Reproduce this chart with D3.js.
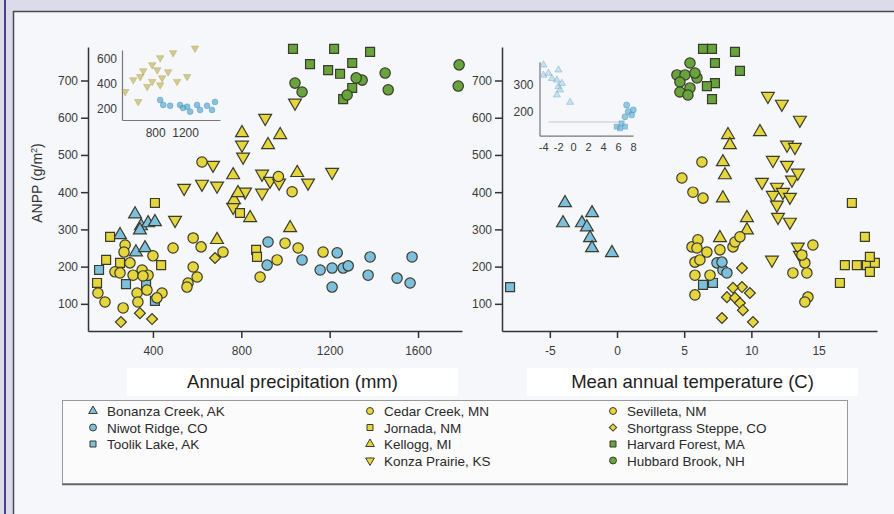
<!DOCTYPE html>
<html>
<head>
<meta charset="utf-8">
<script src="https://cdn.jsdelivr.net/npm/d3@7"></script>
<style>
  body { margin: 0; background: #dcdbe9; }
  svg { display: block; font-family: "Liberation Sans", Arial, sans-serif; }
</style>
</head>
<body>
<svg id="drawing_region"></svg>
<script>
// ANPP (g/m2) by site, against annual precipitation (mm) and mean annual temperature (C)

// [precipitation, ANPP]
const bonanzaPrecip = [[319,341],[346,309],[378,317],[409,320],[251,285],[323,239],[364,250],[341,298]];
const niwotPrecip = [[917,204],[921,266],[1075,218],[1234,237],[1157,191],[1211,196],[1261,196],[1284,202],[1211,145],[1383,226],[1374,177],[1505,169],[1564,156],[1573,226]];
const toolikPrecip = [[156,191],[278,153],[369,151],[409,108]];
const cedarPrecip = [[622,481],[491,250],[582,277],[618,253],[717,239],[559,156],[600,172],[582,199],[962,218],[998,263],[1057,250],[1170,239],[885,172],[554,145],[1030,401],[968,442]];
const jornadaPrecip = [[409,371],[206,280],[188,218],[147,156],[437,204],[867,245],[871,226],[794,344],[251,210]];
const kelloggPrecip = [[763,446],[803,559],[976,554],[921,527],[1053,452],[1021,304],[690,272],[840,331],[767,379],[785,398]];
const konzaPrecip = [[500,325],[541,411],[622,422],[690,417],[672,473],[908,599],[803,527],[808,495],[894,449],[930,430],[971,425],[1102,425],[1211,454],[1043,640],[894,398],[817,401],[763,360]];
const sevilletaPrecip = [[274,258],[269,239],[400,229],[228,186],[296,210],[251,183],[351,191],[310,177],[378,177],[151,129],[183,105],[328,129],[373,137],[441,129],[332,105],[265,89],[418,116],[355,175]];
const shortgrassPrecip = [[255,51],[396,59],[341,75],[681,223]];
const harvardPrecip = [[1034,785],[1220,785],[1383,777],[1111,744],[1193,728],[1302,747],[1247,718],[1302,680],[1261,650]];
const hubbardPrecip = [[1043,693],[1075,669],[1347,701],[1451,720],[1465,675],[1320,707],[1279,661],[1786,742],[1782,685]];

// [temperature, ANPP]
const bonanzaTemp = [[-3.87,371],[-4.02,317],[-2.61,317],[-1.86,344],[-2.24,306],[-2.01,277],[-1.86,250],[-0.38,237]];
const niwotTemp = [[7.44,210],[7.88,191],[8.18,183],[7.81,212]];
const toolikTemp = [[-7.96,145],[6.40,151],[7.14,156]];
const cedarTemp = [[6.32,481],[4.83,438],[5.65,400],[6.40,384],[5.58,253],[6.02,272],[5.95,250],[5.80,212],[6.17,218],[6.69,239],[7.66,245],[8.63,253],[8.78,266],[9.15,280],[6.92,177],[5.80,177],[5.80,124]];
const jornadaTemp = [[17.48,371],[18.45,280],[16.59,156],[16.96,204],[17.85,204],[18.60,204],[19.19,210],[18.82,226],[18.82,186]];
const kelloggTemp = [[10.64,562],[8.26,554],[8.40,527],[7.88,481],[8.03,446],[7.88,384],[9.67,331],[9.67,298],[7.66,277]];
const konzaTemp = [[11.23,658],[12.27,637],[13.61,594],[12.65,527],[13.24,521],[11.60,486],[12.65,473],[10.79,427],[11.90,414],[13.02,433],[13.46,452],[11.60,392],[12.35,400],[12.87,387],[11.90,366],[11.98,333],[12.87,320],[11.53,218],[13.46,253],[13.61,231]];
const sevilletaTemp = [[13.09,183],[13.98,210],[14.13,183],[13.76,231],[14.58,258],[14.21,118],[13.98,105]];
const shortgrassTemp = [[9.30,196],[9.30,145],[8.63,143],[8.18,118],[8.78,116],[9.89,129],[9.15,102],[9.37,83],[7.81,62],[10.12,51]];
const harvardTemp = [[6.40,785],[7.07,785],[8.78,777],[7.29,747],[9.15,726],[7.29,693],[6.69,685],[7.07,650]];
const hubbardTemp = [[5.43,747],[4.46,715],[5.06,715],[5.95,707],[4.68,696],[5.43,680],[4.68,669],[5.28,661],[5.80,720]];

// insets
const insetKonzaPrecip = [[1333,687],[1040,649],[867,609],[760,553],[827,512],[600,458],[507,432],[893,448],[760,418],[693,378],[1227,458],[1093,418],[400,337],[573,257],[867,391],[640,504],[973,496]];
const insetNiwotPrecip = [[867,270],[907,230],[1000,224],[1133,230],[1227,216],[1360,230],[1400,190],[1493,224],[1560,190],[1267,176],[1173,206],[1600,254]];
const insetBonanzaTemp = [[-3.97,370],[-3.97,333],[-3.3,340],[-2.85,321],[-1.97,352],[-2.18,315],[-1.97,291],[-1.74,279],[-2.18,261],[-0.41,234],[-1.51,303]];
const insetNiwotTemp = [[7.15,224],[7.37,200],[7.82,188],[8.03,206],[6.93,181]];
const insetToolikTemp = [[6.49,157],[6.26,139],[6.93,145],[5.82,145]];

// ticks
const precipTicks = [400, 800, 1200, 1600];
const tempTicks = [-5, 0, 5, 10, 15];
const anppTicks = [100, 200, 300, 400, 500, 600, 700];
const insetPrecipTicks = [800, 1200];
const insetPrecipAnppTicks = [200, 400, 600];
const insetTempTicks = [-4, -2, 0, 2, 4, 6, 8];
const insetTempAnppTicks = [200, 300];

const legendColumns = [
    ["Bonanza Creek, AK", "Niwot Ridge, CO", "Toolik Lake, AK"],
    ["Cedar Creek, MN", "Jornada, NM", "Kellogg, MI", "Konza Prairie, KS"],
    ["Sevilleta, NM", "Shortgrass Steppe, CO", "Harvard Forest, MA", "Hubbard Brook, NH"]
];

const BLUE = "#7cc0dd", YELLOW = "#e6d63e", GREEN = "#68a43c";
const siteStyle = {
    "Bonanza Creek, AK": { shape: "triangle", color: BLUE },
    "Niwot Ridge, CO": { shape: "circle", color: BLUE },
    "Toolik Lake, AK": { shape: "square", color: BLUE },
    "Cedar Creek, MN": { shape: "circle", color: YELLOW },
    "Jornada, NM": { shape: "square", color: YELLOW },
    "Kellogg, MI": { shape: "triangle", color: YELLOW },
    "Konza Prairie, KS": { shape: "triangleDown", color: YELLOW },
    "Sevilleta, NM": { shape: "circle", color: YELLOW },
    "Shortgrass Steppe, CO": { shape: "diamond", color: YELLOW },
    "Harvard Forest, MA": { shape: "square", color: GREEN },
    "Hubbard Brook, NH": { shape: "circle", color: GREEN }
};

const precipLayers = [
    ["Bonanza Creek, AK", bonanzaPrecip], ["Toolik Lake, AK", toolikPrecip], ["Niwot Ridge, CO", niwotPrecip],
    ["Konza Prairie, KS", konzaPrecip], ["Kellogg, MI", kelloggPrecip], ["Jornada, NM", jornadaPrecip],
    ["Cedar Creek, MN", cedarPrecip], ["Sevilleta, NM", sevilletaPrecip], ["Shortgrass Steppe, CO", shortgrassPrecip],
    ["Harvard Forest, MA", harvardPrecip], ["Hubbard Brook, NH", hubbardPrecip]
];
const tempLayers = [
    ["Bonanza Creek, AK", bonanzaTemp], ["Toolik Lake, AK", toolikTemp], ["Niwot Ridge, CO", niwotTemp],
    ["Konza Prairie, KS", konzaTemp], ["Kellogg, MI", kelloggTemp], ["Jornada, NM", jornadaTemp],
    ["Cedar Creek, MN", cedarTemp], ["Sevilleta, NM", sevilletaTemp], ["Shortgrass Steppe, CO", shortgrassTemp],
    ["Harvard Forest, MA", harvardTemp], ["Hubbard Brook, NH", hubbardTemp]
];

const W = 894, H = 514;
const svg = d3.select("#drawing_region").attr("width", W).attr("height", H);

// frame
svg.append("rect").attr("width", W).attr("height", H).attr("fill", "#dcdbe9");
svg.append("rect").attr("x", 4).attr("y", 0).attr("width", 2).attr("height", H).attr("fill", "#4c428a");
svg.append("rect").attr("x", 13.5).attr("y", 11.5).attr("width", W).attr("height", H)
    .attr("fill", "#f5f7fb").attr("stroke", "#4a4a4a").attr("stroke-width", 1.5);

// scales
const yscale = d3.scaleLinear().domain([27, 790]).range([331, 47]);
const xPrecip = d3.scaleLinear().domain([106, 1799]).range([88, 462]);
const xTemp = d3.scaleLinear().domain([-8.56, 19.35]).range([502, 877]);
const xInsetP = d3.scaleLinear().domain([356, 1667]).range([122, 220]);
const yInsetP = d3.scaleLinear().domain([109, 672]).range([120, 50]);
const xInsetT = d3.scaleLinear().domain([-4.5, 8]).range([539.5, 633]);
const yInsetT = d3.scaleLinear().domain([112, 382]).range([135.7, 61.7]);

const plain = d => String(d);

const symbolTypes = {
    triangle: d3.symbolTriangle, triangleDown: d3.symbolTriangle,
    circle: d3.symbolCircle, square: d3.symbolSquare, diamond: d3.symbolSquare
};
const symbolScale = { triangle: 0.85, triangleDown: 0.85, circle: 1.0, square: 0.95, diamond: 0.7 };
const symbolRotate = { triangle: "", triangleDown: " rotate(180)", circle: "", square: "", diamond: " rotate(45)" };

function symbolPath(shape, size) {
    return d3.symbol(symbolTypes[shape], size * symbolScale[shape])();
}

function drawPoints(g, site, pts, xs, ys, opt) {
    const st = siteStyle[site];
    g.append("g").selectAll("path")
        .data(pts)
        .join("path")
        .attr("transform", d => `translate(${xs(d[0])},${ys(d[1])})${symbolRotate[st.shape]}`)
        .attr("d", symbolPath(st.shape, opt.size))
        .attr("fill", opt.fill || st.color)
        .attr("fill-opacity", opt.opacity || 1)
        .attr("stroke", opt.stroke || "#3b3b2c")
        .attr("stroke-opacity", opt.strokeOpacity || 1)
        .attr("stroke-width", opt.strokeWidth || 1.2);
}

function styleAxis(g, color, width, fontSize) {
    g.attr("font-family", null).attr("font-size", fontSize);
    g.select(".domain").attr("stroke", color).attr("stroke-width", width);
    g.selectAll(".tick line").attr("stroke", color).attr("stroke-width", width);
    g.selectAll(".tick text").attr("fill", "#3a3a3a");
}

// main axes
const axisColor = "#333";
const leftX = svg.append("g").attr("transform", "translate(0,331)")
    .call(d3.axisBottom(xPrecip).tickValues(precipTicks).tickFormat(plain).tickSize(7).tickPadding(8).tickSizeOuter(0));
styleAxis(leftX, axisColor, 1.5, 12);
const leftY = svg.append("g").attr("transform", "translate(88,0)")
    .call(d3.axisLeft(yscale).tickValues(anppTicks).tickFormat(plain).tickSize(7).tickPadding(3).tickSizeOuter(0));
styleAxis(leftY, axisColor, 1.5, 12);
const rightX = svg.append("g").attr("transform", "translate(0,331)")
    .call(d3.axisBottom(xTemp).tickValues(tempTicks).tickFormat(plain).tickSize(7).tickPadding(8).tickSizeOuter(0));
styleAxis(rightX, axisColor, 1.5, 12);
const rightY = svg.append("g").attr("transform", "translate(502,0)")
    .call(d3.axisLeft(yscale).tickValues(anppTicks).tickFormat(plain).tickSize(7).tickPadding(3).tickSizeOuter(0));
styleAxis(rightY, axisColor, 1.5, 12);

// y title
const ytitle = svg.append("text")
    .attr("transform", "translate(42,183) rotate(-90)")
    .attr("text-anchor", "middle")
    .attr("fill", "#333")
    .style("font-size", "14px");
ytitle.append("tspan").text("ANPP (g/m");
ytitle.append("tspan").attr("baseline-shift", "super").style("font-size", "9px").text("2");
ytitle.append("tspan").text(")");

// insets
const insetColor = "#777";
const inLX = svg.append("g").attr("transform", "translate(0,120)")
    .call(d3.axisBottom(xInsetP).tickValues(insetPrecipTicks).tickFormat(plain).tickSize(0).tickPadding(8).tickSizeOuter(0));
styleAxis(inLX, insetColor, 1.2, 12);
const inLY = svg.append("g").attr("transform", "translate(122,0)")
    .call(d3.axisLeft(yInsetP).tickValues(insetPrecipAnppTicks).tickFormat(plain).tickSize(0).tickPadding(5).tickSizeOuter(0));
styleAxis(inLY, insetColor, 1.2, 12);

const inRX = svg.append("g").attr("transform", "translate(0,135.7)")
    .call(d3.axisBottom(xInsetT).tickValues(insetTempTicks).tickFormat(plain).tickSize(0).tickPadding(8).tickSizeOuter(0));
styleAxis(inRX, insetColor, 1.2, 11);
const inRY = svg.append("g").attr("transform", "translate(539.5,0)")
    .call(d3.axisLeft(yInsetT).tickValues(insetTempAnppTicks).tickFormat(plain).tickSize(0).tickPadding(6).tickSizeOuter(0));
styleAxis(inRY, insetColor, 1.2, 12);
svg.append("line")
    .attr("x1", xInsetT(-3.3)).attr("x2", xInsetT(6.3))
    .attr("y1", yInsetT(162)).attr("y2", yInsetT(162))
    .attr("stroke", "#c4c8cc").attr("stroke-width", 1);

const insetG = svg.append("g");
drawPoints(insetG, "Konza Prairie, KS", insetKonzaPrecip, xInsetP, yInsetP,
    { size: 28, fill: "#bcae45", opacity: 0.6, stroke: "#9a8e3a", strokeOpacity: 0.4, strokeWidth: 0.8 });
drawPoints(insetG, "Niwot Ridge, CO", insetNiwotPrecip, xInsetP, yInsetP,
    { size: 28, fill: "#4fa3cc", opacity: 0.65, stroke: "#3a86ad", strokeOpacity: 0.4, strokeWidth: 0.8 });
drawPoints(insetG, "Bonanza Creek, AK", insetBonanzaTemp, xInsetT, yInsetT,
    { size: 26, fill: "#9fd0e6", opacity: 0.55, stroke: "#6a9fb8", strokeOpacity: 0.5, strokeWidth: 0.8 });
drawPoints(insetG, "Niwot Ridge, CO", insetNiwotTemp, xInsetT, yInsetT,
    { size: 30, fill: "#5fadd3", opacity: 0.65, stroke: "#4c93b8", strokeOpacity: 0.5, strokeWidth: 0.8 });
drawPoints(insetG, "Toolik Lake, AK", insetToolikTemp, xInsetT, yInsetT,
    { size: 26, fill: "#5fadd3", opacity: 0.65, stroke: "#4c93b8", strokeOpacity: 0.5, strokeWidth: 0.8 });

// main points
const pointG = svg.append("g");
precipLayers.forEach(([site, pts]) => drawPoints(pointG, site, pts, xPrecip, yscale, { size: 84 }));
tempLayers.forEach(([site, pts]) => drawPoints(pointG, site, pts, xTemp, yscale, { size: 84 }));

// x titles
const xTitles = [
    { text: "Annual precipitation (mm)", x: 127, w: 331 },
    { text: "Mean annual temperature (C)", x: 527, w: 331 }
];
xTitles.forEach(t => {
    svg.append("rect").attr("x", t.x).attr("y", 368).attr("width", t.w).attr("height", 28).attr("fill", "#fff");
    svg.append("text")
        .attr("x", t.x + t.w / 2).attr("y", 388)
        .attr("text-anchor", "middle")
        .attr("fill", "#1e1e1e")
        .style("font-size", "18.5px")
        .text(t.text);
});

// legend
svg.append("rect").attr("x", 62.5).attr("y", 400.5).attr("width", 785).attr("height", 83)
    .attr("fill", "#fbfbfc").attr("stroke", "#999").attr("stroke-width", 1);
svg.append("line").attr("x1", 62).attr("x2", 848).attr("y1", 484.5).attr("y2", 484.5)
    .attr("stroke", "#666").attr("stroke-width", 1.5);

const legendX = [93, 370, 613];
const legendRows = [411, 427.5, 444, 460.5];
legendColumns.forEach((col, ci) => {
    col.forEach((site, ri) => {
        const st = siteStyle[site];
        svg.append("path")
            .attr("transform", `translate(${legendX[ci]},${legendRows[ri]})${symbolRotate[st.shape]}`)
            .attr("d", symbolPath(st.shape, 38))
            .attr("fill", st.color)
            .attr("stroke", "#3b3b2c")
            .attr("stroke-width", 1);
        svg.append("text")
            .attr("x", legendX[ci] + 14).attr("y", legendRows[ri] + 5)
            .attr("fill", "#2a2a2a")
            .style("font-size", "13.5px")
            .text(site);
    });
});
</script>
</body>
</html>
